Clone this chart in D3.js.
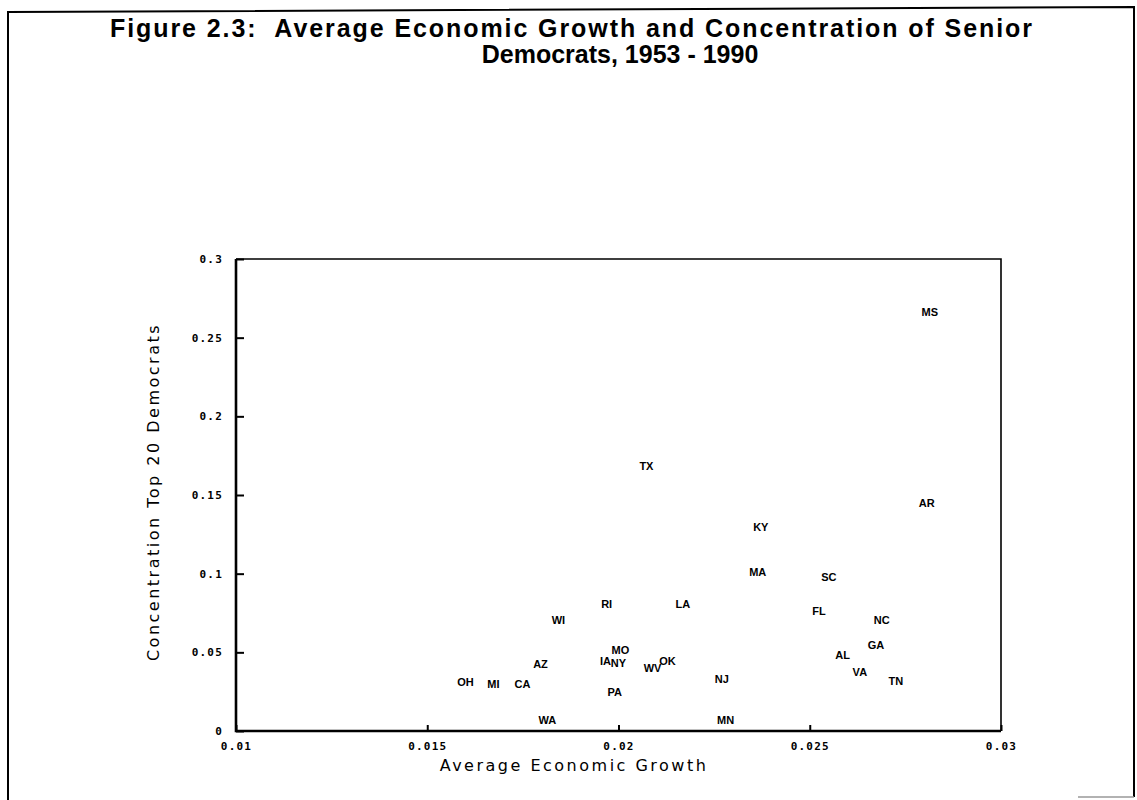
<!DOCTYPE html>
<html>
<head>
<meta charset="utf-8">
<script src="https://cdn.jsdelivr.net/npm/d3@7"></script>
<style>
  html, body { margin: 0; padding: 0; background: #fff; }
  svg { display: block; }
</style>
</head>
<body>
<div id="chart"></div>
<script>
// state labels with (growth, concentration)
const states = ['MS', 'AR', 'TX', 'KY', 'MA', 'SC', 'FL', 'NC', 'GA', 'AL', 'VA', 'TN',
  'LA', 'RI', 'WI', 'MO', 'IA', 'NY', 'WV', 'OK', 'NJ', 'MN', 'PA', 'WA', 'AZ', 'OH', 'MI', 'CA'];
const growth = [0.02814, 0.02806, 0.02073, 0.02372, 0.02364, 0.02550, 0.02524, 0.02688, 0.02673, 0.02586, 0.02631, 0.02725,
  0.02168, 0.01969, 0.01843, 0.02005, 0.01966, 0.02000, 0.02089, 0.02128, 0.02270, 0.02280, 0.01990, 0.01814, 0.01796, 0.01600, 0.01673, 0.01749];
const concentration = [0.2663, 0.1450, 0.1686, 0.1296, 0.1009, 0.0977, 0.0760, 0.0702, 0.0543, 0.0479, 0.0377, 0.0319,
  0.0805, 0.0805, 0.0702, 0.0517, 0.0447, 0.0434, 0.0402, 0.0447, 0.0332, 0.0070, 0.0249, 0.0070, 0.0428, 0.0313, 0.0300, 0.0300];

const xTicks = [0.01, 0.015, 0.02, 0.025, 0.03];
const xTickLabels = ['0.01', '0.015', '0.02', '0.025', '0.03'];
const yTicks = [0, 0.05, 0.1, 0.15, 0.2, 0.25, 0.3];
const yTickLabels = ['0', '0.05', '0.1', '0.15', '0.2', '0.25', '0.3'];

const W = 1137, H = 800;
const plot = { left: 236, right: 1001, top: 259, bottom: 731 };

const svg = d3.select('#chart').append('svg')
  .attr('width', W)
  .attr('height', H);

// outer frame (scanned page border)
svg.append('path')
  .attr('d', 'M8,800 L8,12 L1134,7 L1134,797')
  .attr('fill', 'none')
  .attr('stroke', '#000')
  .attr('stroke-width', 2);
svg.append('line')
  .attr('x1', 1078).attr('x2', 1134)
  .attr('y1', 797).attr('y2', 797)
  .attr('stroke', '#999')
  .attr('stroke-width', 1.5);

// title
const title = svg.append('text')
  .attr('text-anchor', 'middle')
  .attr('xml:space', 'preserve')
  .style('white-space', 'pre')
  .style('font-family', '"Liberation Sans", Arial, sans-serif')
  .style('font-weight', 'bold')
  .style('font-size', '25px')
  .attr('fill', '#000');
title.append('tspan').attr('x', 571).attr('y', 37)
  .attr('textLength', 922)
  .attr('lengthAdjust', 'spacing')
  .text('Figure 2.3:  Average Economic Growth and Concentration of Senior');
title.append('tspan').attr('x', 620).attr('y', 63)
  .text('Democrats, 1953 - 1990');

const x = d3.scaleLinear()
  .domain([0.01, 0.03])
  .range([plot.left, plot.right]);

const y = d3.scaleLinear()
  .domain([0, 0.3])
  .range([plot.bottom, plot.top]);

// plot box: heavier left/bottom axes, lighter top/right
svg.append('path')
  .attr('d', `M${plot.left},${plot.top} L${plot.right},${plot.top} L${plot.right},${plot.bottom}`)
  .attr('fill', 'none')
  .attr('stroke', '#000')
  .attr('stroke-width', 1.6);
svg.append('path')
  .attr('d', `M${plot.left},${plot.top} L${plot.left},${plot.bottom} L${plot.right},${plot.bottom}`)
  .attr('fill', 'none')
  .attr('stroke', '#000')
  .attr('stroke-width', 2.6);

// axes with inward ticks
const tickFont = g => g.selectAll('.tick text')
  .attr('fill', '#000')
  .style('font-family', '"DejaVu Sans Mono", monospace')
  .style('font-weight', 'bold')
  .style('font-size', '11px')
  .style('letter-spacing', '1.2px');

svg.append('g')
  .attr('transform', `translate(0,${plot.bottom})`)
  .call(d3.axisBottom(x).tickValues(xTicks)
    .tickFormat((d, i) => xTickLabels[i])
    .tickSizeInner(-6).tickSizeOuter(0).tickPadding(11))
  .call(g => g.select('.domain').remove())
  .call(g => g.selectAll('.tick line').attr('stroke', '#000').attr('stroke-width', 2))
  .call(tickFont);

svg.append('g')
  .attr('transform', `translate(${plot.left},0)`)
  .call(d3.axisLeft(y).tickValues(yTicks)
    .tickFormat((d, i) => yTickLabels[i])
    .tickSizeInner(-8).tickSizeOuter(0).tickPadding(13))
  .call(g => g.select('.domain').remove())
  .call(g => g.selectAll('.tick line').attr('stroke', '#000').attr('stroke-width', 2))
  .call(tickFont);

// axis titles
svg.append('text')
  .attr('text-anchor', 'middle')
  .attr('x', 574)
  .attr('y', 771)
  .text('Average Economic Growth')
  .style('font-family', '"DejaVu Sans", sans-serif')
  .style('font-size', '16px')
  .style('letter-spacing', '2.5px')
  .attr('fill', '#000');

svg.append('text')
  .attr('text-anchor', 'middle')
  .attr('transform', 'translate(159,492) rotate(-90)')
  .text('Concentration Top 20 Democrats')
  .style('font-family', '"DejaVu Sans", sans-serif')
  .style('font-size', '16px')
  .style('letter-spacing', '2.5px')
  .attr('fill', '#000');

// state labels as markers
svg.append('g')
  .selectAll('text')
  .data(states)
  .enter()
  .append('text')
  .attr('x', (d, i) => x(growth[i]))
  .attr('y', (d, i) => y(concentration[i]))
  .attr('dy', '0.35em')
  .attr('text-anchor', 'middle')
  .text(d => d)
  .style('font-family', '"Liberation Sans", Arial, sans-serif')
  .style('font-weight', 'bold')
  .style('font-size', '11px')
  .attr('fill', '#000');
</script>
</body>
</html>
